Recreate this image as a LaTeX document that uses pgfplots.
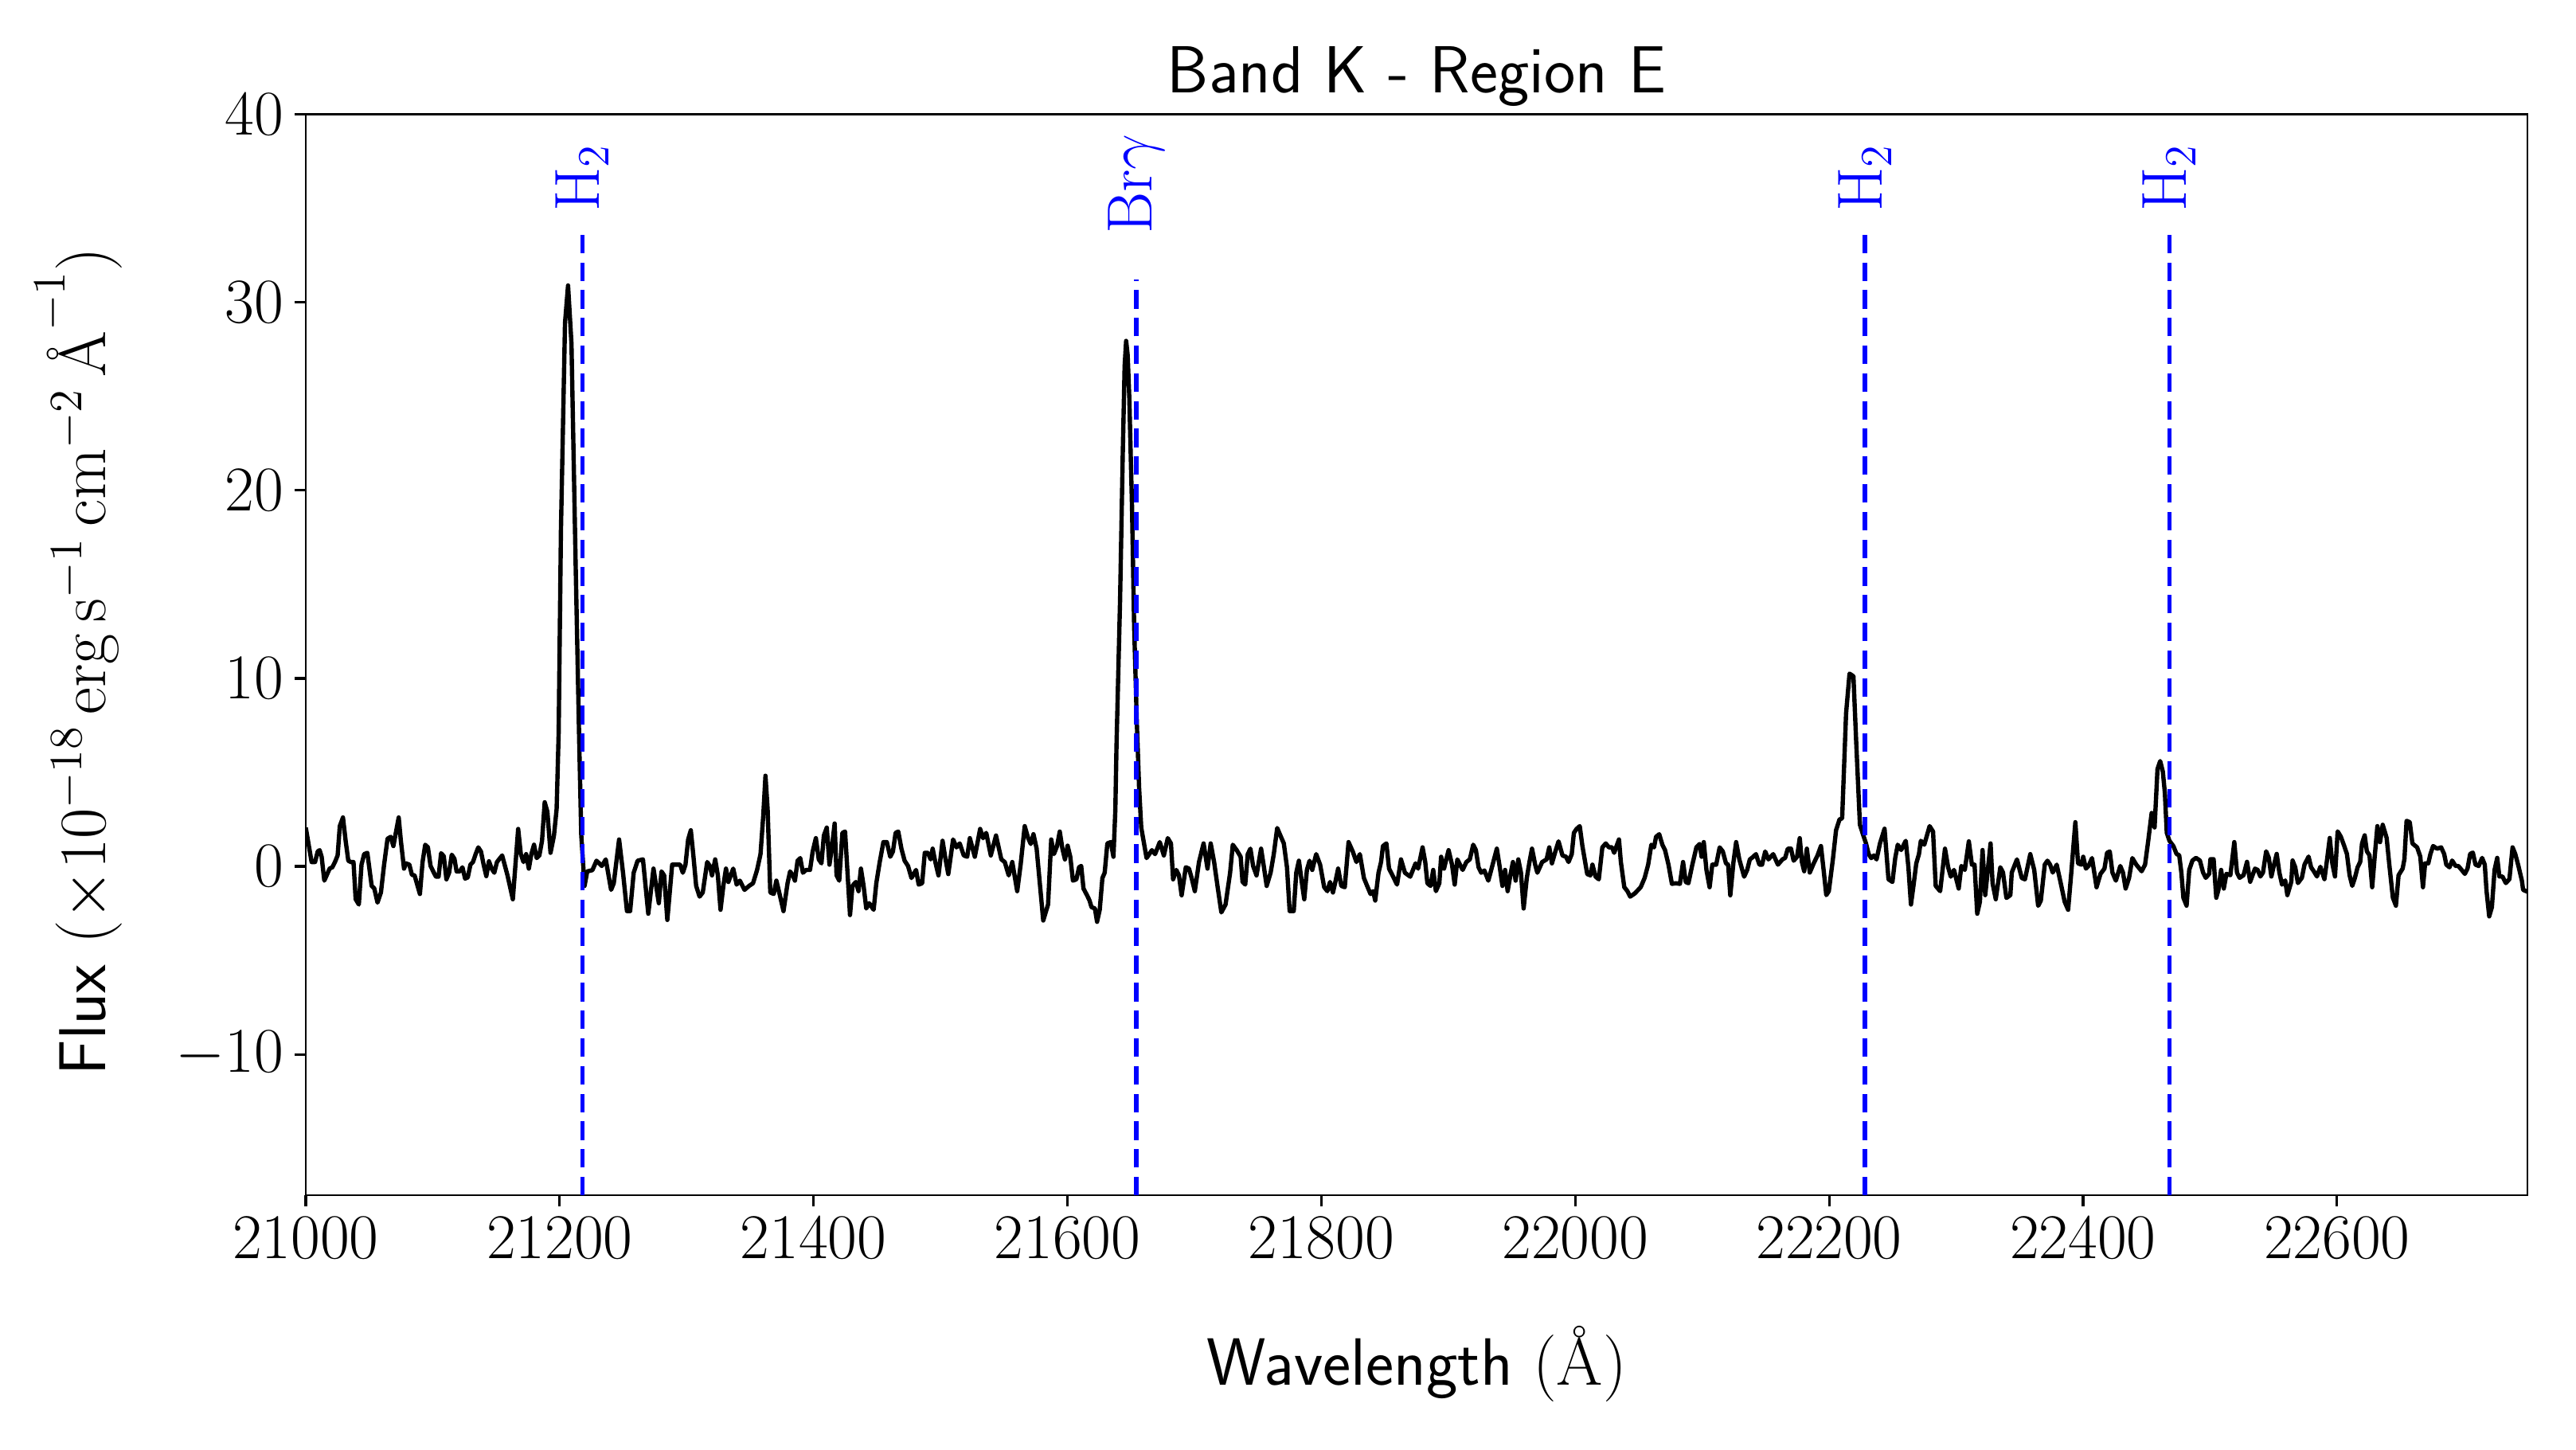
\RequirePackage{fix-cm}
\documentclass[border=0pt]{standalone}
\usepackage{pgfplots}
\pgfplotsset{compat=1.18}
\usepackage{pgfplotstable}
\pgfplotstableread{
x y
21000.0 2.06
21004.6 0.23
21007.3 0.23
21009.4 0.79
21010.9 0.86
21012.5 0.51
21014.6 -0.76
21018.8 -0.12
21020.9 -0.05
21023.0 0.23
21025.1 0.58
21026.8 2.14
21029.3 2.60
21031.4 1.36
21033.5 0.30
21035.5 0.23
21037.6 0.23
21039.3 -1.75
21041.8 -2.03
21043.9 0.09
21046.0 0.65
21048.5 0.72
21051.9 -1.04
21054.0 -1.18
21056.5 -1.93
21059.2 -1.39
21061.7 0.09
21064.4 1.47
21066.9 1.57
21069.0 1.08
21073.2 2.60
21074.9 1.36
21077.4 -0.12
21079.0 0.16
21081.6 0.09
21083.6 -0.45
21085.7 -0.48
21089.9 -1.47
21092.0 0.23
21094.1 1.15
21096.2 1.01
21098.3 0.02
21100.4 -0.27
21102.5 -0.55
21104.6 -0.55
21106.6 0.70
21108.7 0.54
21110.8 -0.69
21112.9 -0.34
21115.0 0.62
21117.1 0.40
21118.8 -0.27
21121.3 -0.27
21123.4 -0.05
21125.5 -0.65
21127.6 -0.59
21129.7 0.09
21131.7 0.23
21133.8 0.65
21135.9 1.01
21138.0 0.79
21140.1 0.09
21142.2 -0.52
21144.3 0.27
21146.4 -0.12
21148.5 -0.34
21150.6 0.23
21154.7 0.58
21158.9 -0.48
21163.1 -1.75
21167.3 1.99
21169.4 0.65
21171.5 0.23
21173.6 0.65
21175.7 -0.12
21177.7 0.65
21179.8 1.15
21181.9 0.44
21184.0 0.58
21186.1 1.36
21188.2 3.41
21190.3 2.91
21192.8 0.72
21195.5 1.64
21197.6 3.05
21199.2 7.1
21201.0 17.9
21204.2 28.9
21206.6 30.9
21209.3 27.8
21212.6 16.0
21215.4 6.6
21217.0 1.66
21219.6 -1.04
21221.7 -0.27
21225.8 -0.20
21229.0 0.30
21233.2 0.02
21236.3 0.37
21240.5 -1.25
21242.6 -0.90
21246.8 1.43
21249.9 -0.34
21253.0 -2.38
21255.5 -2.38
21258.3 -0.34
21261.4 0.30
21265.6 0.37
21269.8 -2.52
21273.9 -0.12
21278.1 -1.96
21280.2 -0.27
21282.3 -0.48
21284.8 -2.85
21288.6 0.09
21291.8 0.09
21294.9 0.09
21297.0 -0.34
21299.1 0.09
21301.2 1.43
21303.3 1.92
21305.4 0.51
21307.5 -1.04
21310.2 -1.61
21312.7 -1.39
21316.2 0.23
21318.3 0.02
21320.0 -0.48
21322.5 0.37
21324.6 -0.48
21326.7 -2.31
21329.0 -1.00
21331.0 -0.12
21332.9 -0.83
21336.7 -0.12
21339.4 -0.97
21341.9 -0.76
21345.6 -1.25
21349.2 -1.04
21352.3 -0.90
21355.5 -0.19
21358.2 0.65
21360.3 2.63
21362.1 4.82
21363.8 3.05
21365.9 -1.39
21368.6 -1.47
21370.7 -0.76
21373.2 -1.47
21376.3 -2.38
21379.5 -0.90
21381.5 -0.27
21383.6 -0.48
21385.3 -0.76
21387.4 0.30
21389.5 0.44
21391.6 -0.34
21394.1 -0.19
21397.2 -0.19
21399.3 0.79
21401.8 1.50
21404.1 0.37
21406.2 0.16
21408.1 1.64
21410.4 2.06
21412.5 0.09
21414.3 0.94
21416.6 2.28
21418.1 -0.48
21420.2 -0.76
21422.7 1.78
21424.8 1.85
21427.1 -0.76
21428.7 -2.59
21430.6 -1.04
21433.3 -0.83
21435.4 -1.32
21437.3 -0.12
21439.4 -1.04
21441.5 -2.24
21443.8 -1.96
21447.3 -2.31
21449.4 -0.90
21452.1 0.23
21455.0 1.29
21457.7 1.29
21460.4 0.51
21462.5 0.79
21464.6 1.78
21466.7 1.85
21469.2 0.94
21471.7 0.30
21474.4 0.02
21477.1 -0.62
21480.7 -0.19
21482.8 -0.97
21485.5 -0.90
21487.6 0.72
21490.1 0.72
21492.2 0.37
21493.8 0.94
21495.9 0.23
21498.4 -0.48
21501.6 1.36
21503.6 0.51
21506.1 -0.41
21509.9 1.43
21512.6 1.01
21515.1 1.22
21518.3 0.58
21521.0 0.51
21523.1 1.50
21527.0 0.51
21531.2 1.99
21533.5 1.50
21536.0 1.78
21539.6 0.58
21543.7 1.64
21547.9 0.37
21550.6 0.23
21553.7 -0.48
21556.5 0.23
21560.4 -1.32
21563.1 0.09
21566.3 2.14
21569.0 1.50
21571.1 1.19
21573.2 1.71
21575.7 0.94
21580.9 -2.88
21584.7 -2.03
21587.2 1.43
21589.3 0.65
21591.8 1.08
21593.9 1.85
21596.0 0.94
21598.0 0.37
21600.1 1.10
21602.2 0.51
21604.3 -0.76
21607.0 -0.69
21609.1 -0.05
21610.8 0.02
21612.6 -1.18
21615.4 -1.54
21617.4 -1.82
21618.9 -2.17
21621.6 -2.24
21623.3 -2.95
21625.4 -2.31
21627.5 -0.62
21629.3 -0.34
21631.4 1.22
21634.1 1.29
21636.2 0.51
21637.7 3.0
21638.6 6.4
21641.4 14.1
21643.5 21.8
21645.0 26.6
21646.2 27.95
21647.4 27.2
21648.7 24.9
21650.8 19.2
21652.5 12.8
21654.6 7.7
21656.4 4.2
21658.1 2.06
21662.3 0.44
21666.5 0.86
21669.0 0.65
21672.7 1.29
21675.9 0.58
21679.0 1.50
21681.5 1.22
21683.2 -0.69
21685.7 -0.19
21687.8 -0.48
21689.9 -1.54
21693.2 -0.05
21695.7 -0.12
21697.8 -0.62
21700.3 -1.32
21703.6 0.23
21707.2 1.22
21710.3 -0.12
21712.8 1.22
21715.5 0.23
21718.3 -1.11
21721.2 -2.45
21724.5 -2.03
21728.1 -0.34
21730.2 1.15
21733.3 0.86
21736.4 0.51
21737.9 -0.83
21740.0 -0.97
21742.0 0.65
21744.1 0.94
21746.2 0.02
21748.9 -0.48
21752.5 0.94
21754.6 0.02
21756.9 -1.04
21760.0 -0.34
21762.5 0.65
21765.2 2.04
21767.7 1.64
21770.4 1.22
21772.9 -0.05
21775.0 -2.38
21778.2 -2.38
21780.2 -0.34
21782.3 0.30
21784.4 -0.76
21786.5 -1.75
21788.6 -0.19
21790.7 0.30
21792.8 -0.19
21795.9 0.65
21799.0 0.09
21802.2 -1.11
21804.7 -1.32
21806.8 -0.83
21809.1 -1.39
21811.0 -0.83
21813.2 -0.12
21815.7 -1.04
21818.4 -1.11
21821.4 1.29
21824.7 0.79
21827.6 0.23
21830.3 0.65
21833.5 -0.62
21835.6 -0.97
21838.7 -1.47
21840.8 -1.32
21842.4 -1.82
21845.0 -0.34
21847.0 0.23
21848.5 1.08
21851.2 1.22
21853.3 -0.12
21856.0 -0.48
21859.6 -0.97
21862.7 0.37
21865.8 -0.34
21870.0 -0.55
21874.2 0.16
21876.2 -0.12
21879.7 1.01
21881.8 0.23
21883.5 -0.90
21886.0 -1.04
21888.1 -0.19
21890.2 -1.32
21892.9 -0.90
21894.3 0.51
21896.6 -0.12
21900.2 0.86
21902.9 0.09
21905.0 -0.97
21907.1 0.37
21909.2 0.09
21911.3 -0.19
21914.2 0.23
21916.9 0.37
21919.6 1.15
21921.7 0.86
21923.8 -0.05
21925.9 -0.34
21928.4 -0.22
21931.5 -0.76
21934.6 0.02
21938.2 0.94
21940.5 -0.05
21942.6 -1.04
21944.7 -0.19
21946.7 -1.32
21949.2 -0.34
21950.9 0.23
21953.0 -0.76
21955.1 0.37
21957.2 -0.34
21959.3 -2.24
21961.8 -0.62
21963.9 0.23
21965.9 0.94
21968.4 0.09
21970.1 -0.34
21973.9 0.23
21977.4 0.37
21979.5 1.01
21981.6 0.16
21984.3 0.79
21986.8 1.33
21989.9 0.58
21992.7 0.51
21994.7 0.23
21997.2 0.65
21998.9 1.78
22001.0 1.99
22003.5 2.14
22005.6 1.08
22009.4 -0.41
22011.9 -0.48
22013.5 0.09
22016.0 -0.55
22018.5 -0.69
22021.3 1.01
22024.0 1.22
22026.5 1.01
22029.0 1.01
22030.6 0.72
22034.4 1.43
22035.9 0.23
22038.6 -1.11
22041.1 -1.32
22043.2 -1.61
22046.9 -1.44
22051.5 -1.11
22054.6 -0.62
22057.4 0.09
22059.9 1.15
22062.0 1.01
22063.6 1.57
22066.1 1.71
22068.6 1.15
22070.7 0.86
22073.4 0.09
22076.1 -0.93
22079.1 -0.90
22082.4 -0.93
22084.9 0.23
22087.0 -0.83
22089.1 -0.90
22092.2 0.09
22095.4 1.01
22097.9 1.19
22099.5 0.51
22101.2 1.29
22103.3 -0.19
22105.8 -1.11
22107.9 0.09
22111.0 0.09
22113.7 1.01
22116.2 0.79
22118.7 0.16
22120.4 0.09
22122.1 -1.54
22124.6 0.23
22126.7 1.29
22129.2 0.37
22133.0 -0.55
22135.4 -0.19
22137.5 0.37
22140.2 0.51
22142.3 0.65
22145.0 0.09
22147.1 0.09
22149.6 0.79
22152.1 0.37
22155.9 0.65
22159.6 0.09
22163.2 0.37
22165.3 0.45
22167.4 0.94
22169.9 0.94
22172.0 0.30
22174.7 0.51
22176.8 1.50
22178.5 0.23
22180.3 -0.26
22182.4 0.94
22184.7 -0.33
22187.8 0.16
22190.8 0.58
22193.5 1.08
22195.6 -0.19
22197.7 -1.53
22199.7 -1.32
22202.9 0.37
22205.4 1.92
22208.1 2.49
22210.2 2.56
22213.3 8.14
22216.0 10.25
22219.1 10.11
22221.2 6.72
22224.2 2.21
22226.9 1.64
22229.0 1.22
22231.1 0.65
22233.1 0.44
22235.2 0.58
22237.3 0.37
22240.0 1.22
22243.6 2.00
22246.7 -0.69
22249.8 -0.83
22252.0 0.44
22254.0 1.15
22256.7 0.87
22260.3 1.36
22262.4 -0.05
22264.4 -2.03
22266.5 -0.97
22268.6 0.16
22270.7 0.65
22272.2 1.36
22274.9 1.15
22279.1 2.14
22281.8 1.85
22283.9 -1.04
22287.4 -1.32
22291.2 0.94
22293.7 -0.05
22295.8 -0.55
22298.3 -0.19
22302.0 -1.18
22304.1 0.02
22306.8 -0.19
22310.0 1.33
22312.4 0.09
22314.5 0.09
22316.6 -2.52
22318.7 -1.89
22320.8 0.87
22322.9 -1.53
22327.1 1.22
22328.7 -0.90
22331.2 -1.75
22334.8 -0.05
22336.9 -0.33
22339.6 -1.68
22342.7 -1.53
22343.8 -0.33
22347.9 0.37
22351.7 -0.62
22354.2 -0.69
22358.4 0.65
22361.5 -0.19
22364.6 -2.10
22366.7 -1.82
22369.8 0.09
22371.9 0.30
22374.0 0.09
22376.1 -0.33
22379.2 0.09
22382.4 -0.90
22385.5 -1.89
22388.2 -2.31
22390.7 -0.33
22393.9 2.35
22396.0 0.16
22398.7 0.09
22400.1 0.51
22402.2 -0.12
22404.3 0.02
22407.0 0.44
22410.6 -1.11
22413.7 -0.40
22416.8 -0.12
22418.9 0.72
22421.0 0.79
22423.1 -0.33
22425.8 -0.76
22429.3 0.02
22431.4 -0.33
22433.5 -1.18
22436.2 -0.62
22438.8 0.44
22441.9 0.09
22446.1 -0.26
22448.8 0.09
22451.3 1.36
22454.0 2.84
22456.3 2.07
22458.6 5.18
22460.7 5.60
22462.8 5.04
22464.4 3.91
22465.9 1.79
22468.0 1.36
22471.1 1.08
22473.6 0.66
22475.7 0.59
22477.4 -0.33
22479.0 -1.67
22481.5 -2.09
22483.6 -0.19
22486.1 0.31
22488.9 0.45
22492.0 0.31
22494.5 -0.33
22496.6 -0.61
22499.3 -0.40
22500.3 0.38
22502.8 0.38
22504.9 -1.67
22506.6 -1.25
22508.7 -0.19
22510.8 -1.18
22512.9 -0.40
22516.0 -0.47
22519.1 1.29
22521.2 -0.33
22523.3 -0.61
22526.4 -0.47
22529.1 0.24
22531.6 -0.82
22535.4 -0.12
22537.5 -0.19
22539.6 -0.54
22541.7 -0.33
22544.2 0.80
22546.3 0.45
22548.3 -0.54
22550.4 0.09
22552.5 0.66
22554.6 -0.33
22556.7 -0.97
22559.2 -0.75
22560.9 -1.53
22564.0 -0.82
22565.0 0.31
22567.1 -0.05
22569.2 -0.89
22572.3 -0.61
22574.4 0.09
22577.6 0.52
22579.6 -0.05
22581.7 -0.26
22584.2 -0.54
22586.9 -0.02
22590.1 -0.68
22592.2 0.38
22594.3 1.51
22596.3 0.16
22598.4 -0.54
22600.5 1.86
22603.0 1.58
22605.7 1.08
22607.8 0.66
22609.9 -0.47
22612.0 -1.04
22614.1 -0.61
22616.2 -0.05
22618.3 0.24
22619.7 1.22
22621.8 1.65
22623.5 0.80
22625.6 0.59
22627.7 -1.11
22629.7 0.52
22631.8 2.14
22633.9 1.29
22636.0 2.21
22639.1 1.51
22641.2 0.09
22644.0 -1.67
22646.4 -2.09
22648.5 -0.47
22651.7 -0.12
22653.1 0.38
22654.8 2.42
22657.3 2.35
22659.4 1.22
22663.1 1.01
22665.6 0.52
22667.7 -1.11
22669.4 0.16
22671.9 0.16
22673.6 0.66
22675.7 1.08
22678.8 0.94
22682.0 1.01
22684.4 0.66
22686.1 0.09
22688.6 -0.05
22690.7 0.31
22693.4 0.02
22695.5 0.02
22698.2 -0.19
22700.7 -0.40
22702.8 -0.12
22704.9 0.66
22707.0 0.73
22709.1 0.09
22711.6 0.02
22714.3 0.45
22716.4 0.09
22717.8 -1.32
22719.9 -2.66
22722.0 -2.17
22724.1 -0.19
22726.2 0.45
22727.9 -0.54
22730.3 -0.54
22733.0 -0.89
22735.8 -0.68
22738.3 1.01
22740.4 0.66
22742.9 0.02
22745.6 -0.75
22746.6 -1.25
22750.0 -1.35
}\spec
\begin{document}
\begin{tikzpicture}
\begin{axis}[
  scale only axis, width=697.5pt, height=339.4pt,
  xmin=21000, xmax=22750, ymin=-17.5, ymax=40,
  xtick={21000,21200,...,22600},
  ytick={-10,0,10,20,30,40},
  scaled x ticks=false,
  xticklabel style={/pgf/number format/1000 sep={}},
  tick label style={font=\fontsize{20}{24}\selectfont},
  tick align=outside, tick pos=left,
  major tick length=3.5pt,
  every tick/.style={black, line width=0.8pt},
  axis line style={line width=0.6pt},
  title={\sffamily Band K - Region E},
  title style={at={(axis description cs:0.5,1)}, anchor=base, yshift=0.7pt, font=\fontsize{20.9}{25}\selectfont},
  xlabel={\textsf{Wavelength} $(\mbox{\AA})$},
  xlabel style={at={(axis description cs:0.5,0)}, anchor=base, yshift=-59.5pt, font=\fontsize{21}{25}\selectfont},
  ylabel={\textsf{Flux} $(\times10^{-18}\,\mathrm{erg\,s^{-1}\,cm^{-2}}\,\mbox{\AA}^{-1})$},
  ylabel style={at={(axis description cs:-0.09,0.494)}, anchor=base, font=\fontsize{20.8}{25}\selectfont},
]
\addplot[black, line width=1.35pt, line join=round, mark=none] table[x=x,y=y]{\spec};
\addplot[blue, line width=1.45pt, dash pattern=on 5.8pt off 2.9pt, mark=none] coordinates {(21218,-17.5) (21218,34.0)};
\addplot[blue, line width=1.45pt, dash pattern=on 5.8pt off 2.9pt, mark=none] coordinates {(21654,-17.5) (21654,31.2)};
\addplot[blue, line width=1.45pt, dash pattern=on 5.8pt off 2.9pt, mark=none] coordinates {(22228,-17.5) (22228,34.0)};
\addplot[blue, line width=1.45pt, dash pattern=on 5.8pt off 2.9pt, mark=none] coordinates {(22468,-17.5) (22468,34.0)};
\node[blue, rotate=90, anchor=west, inner sep=0pt, font=\fontsize{20}{24}\selectfont] at (axis cs:21218,34.8) {$\mathrm{H_2}$};
\node[blue, rotate=90, anchor=west, inner sep=0pt, font=\fontsize{20}{24}\selectfont] at (axis cs:21654,33.6) {$\mathrm{Br\gamma}$};
\node[blue, rotate=90, anchor=west, inner sep=0pt, font=\fontsize{20}{24}\selectfont] at (axis cs:22228,34.8) {$\mathrm{H_2}$};
\node[blue, rotate=90, anchor=west, inner sep=0pt, font=\fontsize{20}{24}\selectfont] at (axis cs:22468,34.8) {$\mathrm{H_2}$};
\coordinate (sw) at (rel axis cs:0,0);
\coordinate (ne) at (rel axis cs:1,1);
\end{axis}
\path ([shift={(-96pt,-79.75pt)}]sw) rectangle ([shift={(15.25pt,35.9pt)}]ne);
\end{tikzpicture}
\end{document}
